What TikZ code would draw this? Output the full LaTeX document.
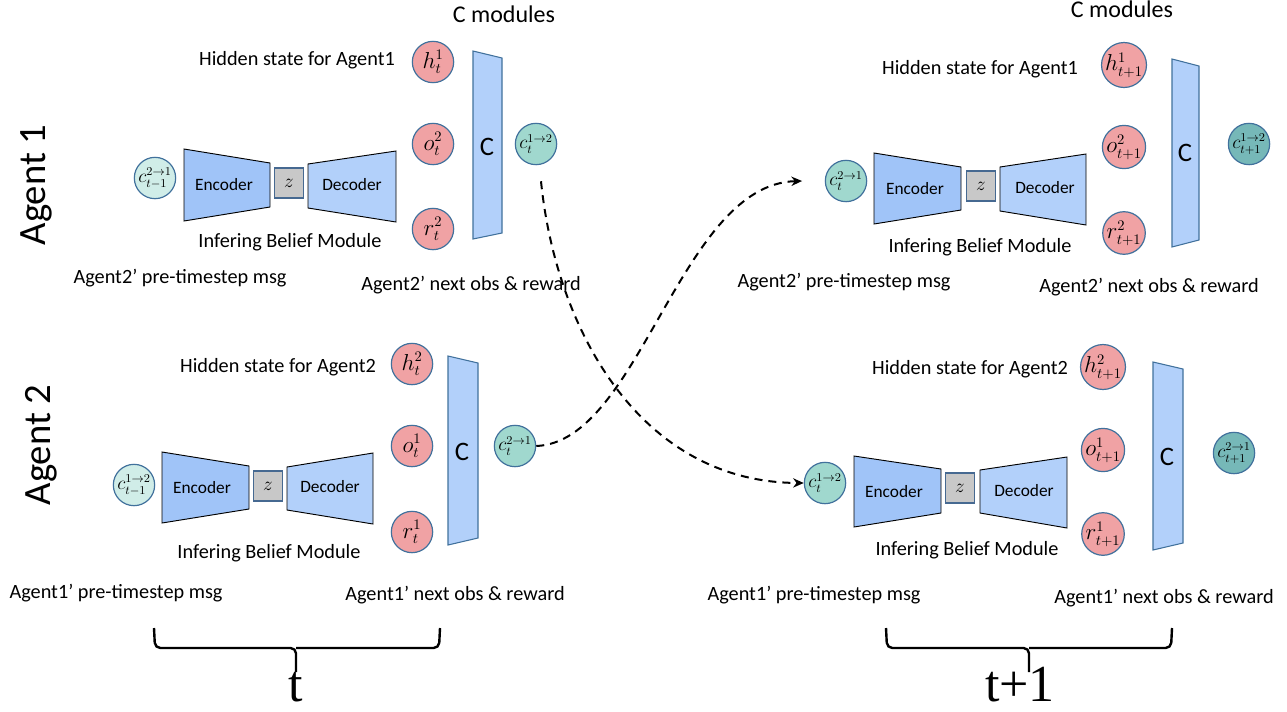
\documentclass[tikz,border=0pt]{standalone}
\usepackage{fontspec}
\setmainfont{Carlito}
\newfontfamily\serifbig{Liberation Serif}
\usetikzlibrary{arrows.meta}
\definecolor{pinkc}{RGB}{240,162,164}
\definecolor{cblue}{RGB}{65,113,156}
\definecolor{tealA}{RGB}{208,237,232}
\definecolor{tealB}{RGB}{160,216,206}
\definecolor{tealC}{RGB}{118,184,184}
\definecolor{encc}{RGB}{160,196,248}
\definecolor{decc}{RGB}{178,208,250}
\definecolor{zgray}{RGB}{200,200,200}
\definecolor{zbord}{RGB}{70,105,145}
\tikzset{
  lbl/.style={font=\fontsize{15.2}{17}\selectfont, inner sep=0},
  title/.style={font=\fontsize{18}{20}\selectfont, inner sep=0},
  agent/.style={font=\fontsize{29}{32}\selectfont, inner sep=0, rotate=90},
  boxlbl/.style={font=\fontsize{13}{15}\selectfont, inner sep=0},
  clbl/.style={font=\fontsize{20}{22}\selectfont, inner sep=0},
  state/.style={circle, draw=cblue, line width=0.9pt, fill=pinkc, minimum size=31pt, inner sep=0, font=\fontsize{16}{16}\selectfont},
  msgA/.style={state, fill=tealA, font=\fontsize{13.5}{13.5}\selectfont},
  msgB/.style={state, fill=tealB, font=\fontsize{13.5}{13.5}\selectfont},
  msgC/.style={state, fill=tealC, font=\fontsize{13.5}{13.5}\selectfont},
  enc/.style={draw=black, fill=encc, line width=0.7pt},
  dec/.style={draw=black, fill=decc, line width=0.7pt},
  cmod/.style={draw=cblue, fill=decc, line width=0.8pt},
  zbox/.style={draw=zbord, fill=zgray, line width=0.8pt, minimum width=22pt, minimum height=22.5pt, inner sep=0, font=\fontsize{14}{14}\selectfont},
  flow/.style={line width=1.5pt, dash pattern=on 6pt off 4.5pt, -{Stealth[length=8pt,width=7pt]}},
  brace/.style={line width=1.8pt, rounded corners=4pt},
  tlbl/.style={font=\serifbig\fontsize{39}{42}\selectfont, inner sep=0, anchor=base}
}
\begin{document}
\begin{tikzpicture}[x=0.75pt,y=-0.75pt]
\useasboundingbox (0,0) rectangle (1287,711);

% ---------------- Agent 1, time t ----------------
\node[agent] (ag1) at (36,185) {Agent 1};
\node[title] (tl-cm) at (504,14) {C modules};
\node[lbl] (tl-hid) at (297,60) {Hidden state for Agent1};
\node[msgA] (tl-cin) at (155,178) {$c_{t-1}^{2\to1}$};
\draw[enc] (184,149) -- (270,163) -- (270,207) -- (184,221) -- cycle;
\node[boxlbl] (tl-enc) at (224,185) {Encoder};
\node[zbox] (tl-z) at (289,183) {$z$};
\draw[dec] (308,164) -- (396,151) -- (396,222) -- (308,208) -- cycle;
\node[boxlbl] (tl-dec) at (352,185) {Decoder};
\node[state] (tl-h) at (433,62) {$h_t^1$};
\node[state] (tl-o) at (433,144) {$o_t^2$};
\node[state] (tl-r) at (433,229) {$r_t^2$};
\draw[cmod] (473,51) -- (502,58) -- (502,233) -- (473,239) -- cycle;
\node[clbl] (tl-c) at (487,147) {C};
\node[msgB] (tl-cout) at (536,144) {$c_t^{1\to2}$};
\node[lbl] (tl-ibm) at (290,242) {Infering Belief Module};
\node[lbl] (tl-pre) at (180,278) {Agent2’ pre-timestep msg};
\node[lbl] (tl-next) at (471,285) {Agent2’ next obs \& reward};

% ---------------- Agent 1, time t+1 ----------------
\node[title] (tr-cm) at (1122,9) {C modules};
\node[lbl] (tr-hid) at (980,69) {Hidden state for Agent1};
\node[msgB] (tr-cin) at (846,181) {$c_t^{2\to1}$};
\draw[enc] (874,153) -- (961,167) -- (961,210) -- (874,224) -- cycle;
\node[boxlbl] (tr-enc) at (915,189) {Encoder};
\node[zbox] (tr-z) at (981,186) {$z$};
\draw[dec] (1000,167) -- (1086,154) -- (1086,225) -- (1000,211) -- cycle;
\node[boxlbl] (tr-dec) at (1045,188) {Decoder};
\node[state] (tr-h) at (1124,65) {$h_{t+1}^1$};
\node[state] (tr-o) at (1124,147) {$o_{t+1}^2$};
\node[state] (tr-r) at (1124,233) {$r_{t+1}^2$};
\draw[cmod] (1172,59) -- (1199,66) -- (1199,240) -- (1172,247) -- cycle;
\node[clbl] (tr-c) at (1185,153) {C};
\node[msgC] (tr-cout) at (1249,144) {$c_{t+1}^{1\to2}$};
\node[lbl] (tr-ibm) at (980,247) {Infering Belief Module};
\node[lbl] (tr-pre) at (844,282) {Agent2’ pre-timestep msg};
\node[lbl] (tr-next) at (1149,287) {Agent2’ next obs \& reward};

% ---------------- Agent 2, time t ----------------
\node[agent] (ag2) at (41,445) {Agent 2};
\node[lbl] (bl-hid) at (278,367) {Hidden state for Agent2};
\node[msgA] (bl-cin) at (134,485) {$c_{t-1}^{1\to2}$};
\draw[enc] (162,452) -- (249,466) -- (249,509) -- (162,523) -- cycle;
\node[boxlbl] (bl-enc) at (202,488) {Encoder};
\node[zbox] (bl-z) at (268,486) {$z$};
\draw[dec] (287,467) -- (373,453) -- (373,524) -- (287,510) -- cycle;
\node[boxlbl] (bl-dec) at (330,487) {Decoder};
\node[state] (bl-h) at (412,364) {$h_t^2$};
\node[state] (bl-o) at (412,446) {$o_t^1$};
\node[state] (bl-r) at (412,532) {$r_t^1$};
\draw[cmod] (448,356) -- (478,363) -- (478,538) -- (448,545) -- cycle;
\node[clbl] (bl-c) at (462,452) {C};
\node[msgB] (bl-cout) at (515,446) {$c_t^{2\to1}$};
\node[lbl] (bl-ibm) at (269,553) {Infering Belief Module};
\node[lbl] (bl-pre) at (116,593) {Agent1’ pre-timestep msg};
\node[lbl] (bl-next) at (455,595) {Agent1’ next obs \& reward};

% ---------------- Agent 2, time t+1 ----------------
\node[lbl] (br-hid) at (970,369) {Hidden state for Agent2};
\node[msgB] (br-cin) at (825,483) {$c_t^{1\to2}$};
\draw[enc] (854,456) -- (941,469) -- (941,513) -- (854,527) -- cycle;
\node[boxlbl] (br-enc) at (894,492) {Encoder};
\node[zbox] (br-z) at (960,488) {$z$};
\draw[dec] (980,470) -- (1067,457) -- (1067,528) -- (980,513) -- cycle;
\node[boxlbl] (br-dec) at (1024,491) {Decoder};
\node[state] (br-h) at (1103,367) {$h_{t+1}^2$};
\node[state] (br-o) at (1103,450) {$o_{t+1}^1$};
\node[state] (br-r) at (1103,534) {$r_{t+1}^1$};
\draw[cmod] (1153,362) -- (1183,369) -- (1183,543) -- (1153,550) -- cycle;
\node[clbl] (br-c) at (1167,457) {C};
\node[msgC] (br-cout) at (1234,453) {$c_{t+1}^{2\to1}$};
\node[lbl] (br-ibm) at (967,550) {Infering Belief Module};
\node[lbl] (br-pre) at (814,595) {Agent1’ pre-timestep msg};
\node[lbl] (br-next) at (1164,598) {Agent1’ next obs \& reward};

% ---------------- message passing ----------------
\draw[flow] ([shift={(5,16)}]tl-cout.south) .. controls (556,330) and (640,482) .. (br-cin.west);
\draw[flow] (bl-cout.east) .. controls (640,442) and (680,184) .. ([xshift=-17]tr-cin.west);

% ---------------- time braces ----------------
\coordinate (b1l) at (154,628);
\coordinate (b1m) at (296,672);
\coordinate (b1r) at (440,628);
\draw[brace] (b1l) -- (155,648) -- (296,648) -- (b1m);
\draw[brace] (296,648) -- (439,648) -- (b1r);
\node[tlbl] (tt) at (296,701) {t};
\coordinate (b2l) at (886,628);
\coordinate (b2m) at (1029,672);
\coordinate (b2r) at (1172,628);
\draw[brace] (b2l) -- (887,648) -- (1029,648) -- (b2m);
\draw[brace] (1029,648) -- (1171,648) -- (b2r);
\node[tlbl] (tt1) at (1020,701) {t+1};
\end{tikzpicture}
\end{document}
